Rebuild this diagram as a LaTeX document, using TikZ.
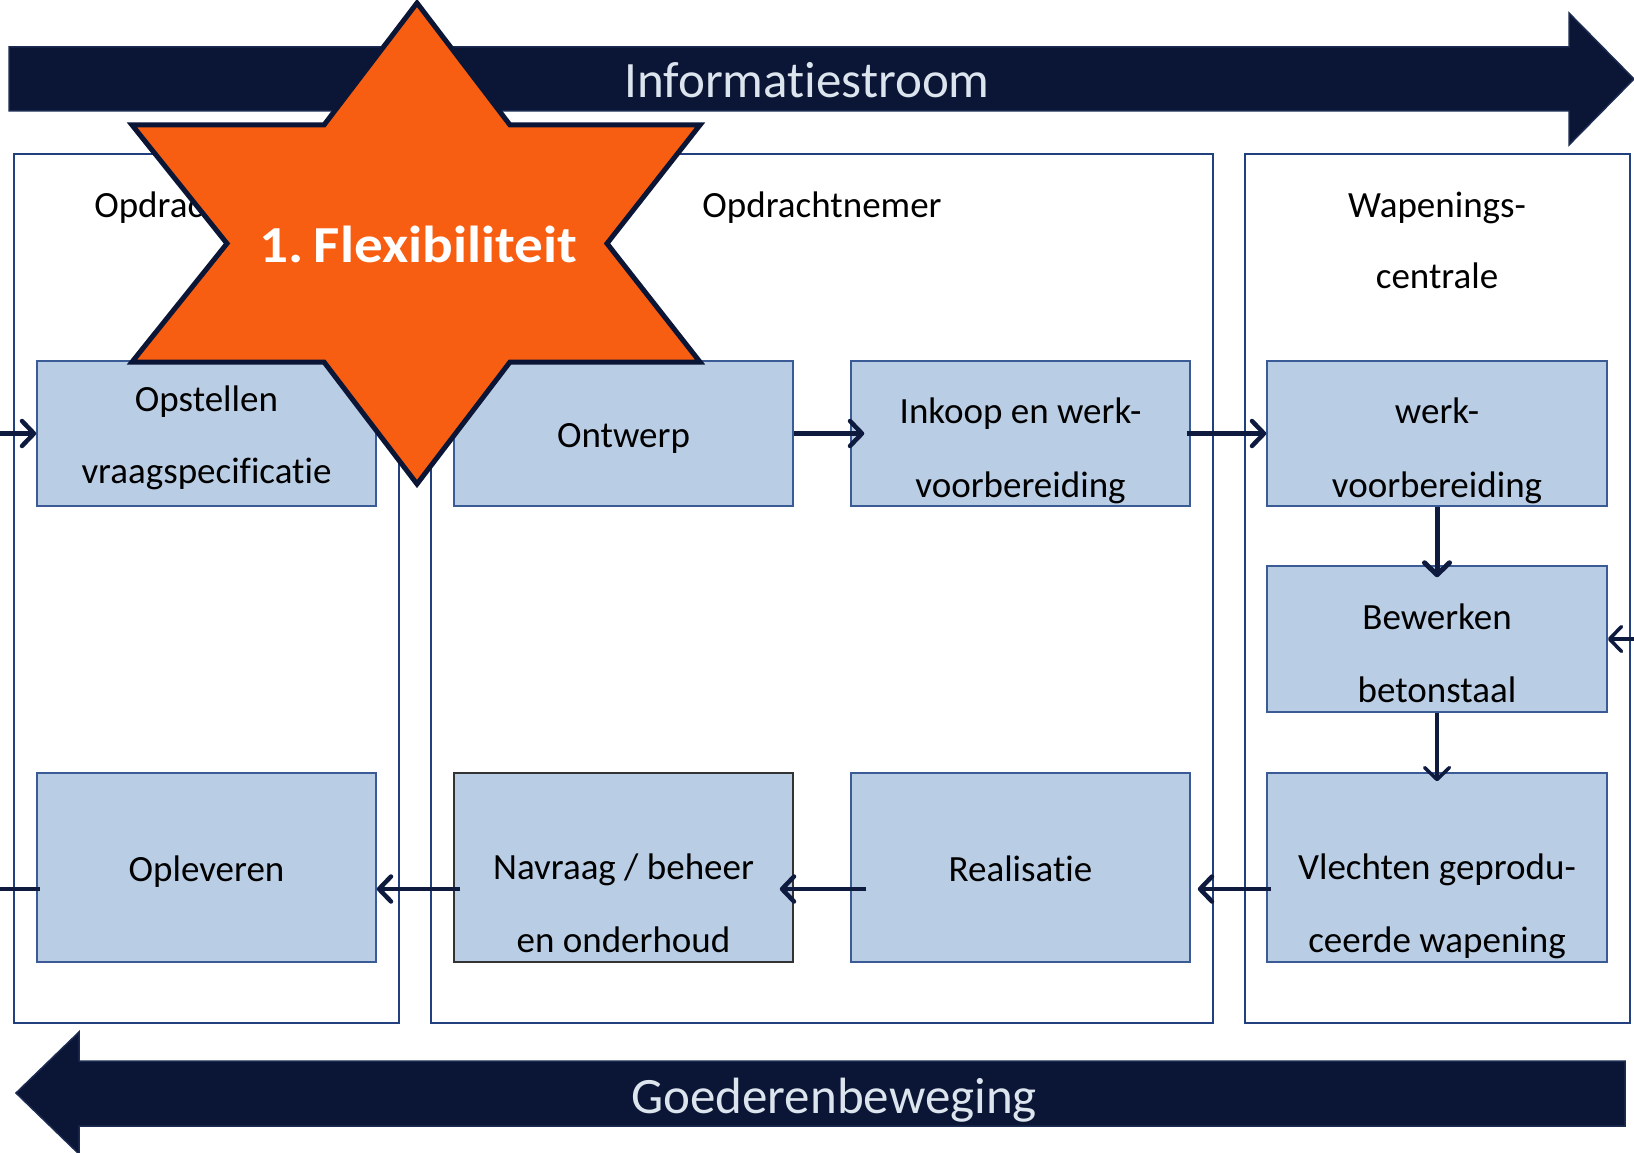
\documentclass[tikz,border=0pt]{standalone}
\usepackage{fontspec}
\setmainfont{Carlito}[Ligatures={NoCommon,NoContextual,NoRare}]
\usetikzlibrary{arrows.meta}
\newcommand\nolg{\kern0pt\relax}
\definecolor{navy}{HTML}{0B1535}
\definecolor{navyedge}{HTML}{1C2B52}
\definecolor{arrowtext}{HTML}{DCE5EE}
\definecolor{boxfill}{HTML}{B9CDE5}
\definecolor{boxedge}{HTML}{3A5B96}
\definecolor{laneedge}{HTML}{23407E}
\definecolor{connc}{HTML}{0E1A3E}
\definecolor{starfill}{HTML}{F85E12}
\tikzset{
  lane/.style={draw=laneedge, line width=2pt},
  procbox/.style={draw=boxedge, fill=boxfill, line width=1.5pt, minimum width=339pt, inner sep=0pt},
  boxtxt/.style={anchor=base, inner sep=0pt, font=\fontsize{37}{44}\selectfont, text=black},
  conn/.style={draw=connc, line width=4.5pt, -{Straight Barb[length=12pt,width=25pt,line cap=round,line join=round]}},
  connthin/.style={conn, line width=3.5pt},
  bigarrow/.style={fill=navy, draw=navyedge, line width=1.5pt},
  bigtxt/.style={anchor=base, inner sep=0pt, font=\fontsize{51}{60}\selectfont, text=arrowtext},
  starshape/.style={fill=starfill, draw=navy, line width=5pt, line join=miter},
}
\begin{document}
\begin{tikzpicture}[x=1pt,y=-1pt]
\useasboundingbox (0,0) rectangle (1634,1153);

% swimlanes
\draw[lane] (14,154) rectangle (398.5,1023);
\draw[lane] (430.5,154) rectangle (1213,1023);
\draw[lane] (1245,154) rectangle (1630,1023);

\node[boxtxt] (l1) at (206,217) {Opdrachtgever};
\node[boxtxt] (l2) at (822,217) {Opdrachtnemer};
\node[boxtxt] (l3a) at (1437,217) {Wapenings-};
\node[boxtxt] (l3b) at (1437,288) {centrale};

% process boxes
\node[procbox, minimum height=145pt] (b1) at (206.5,433.5) {};
\node[procbox, minimum height=145pt] (b2) at (623.5,433.5) {};
\node[procbox, minimum height=145pt] (b3) at (1020.5,433.5) {};
\node[procbox, minimum height=145pt, minimum width=340pt] (b4) at (1437,433.5) {};
\node[procbox, minimum height=146pt, minimum width=340pt] (b5) at (1437,639) {};
\node[procbox, minimum height=189pt, minimum width=340pt] (b6) at (1437,867.5) {};
\node[procbox, minimum height=189pt] (b7) at (1020.5,867.5) {};
\node[procbox, minimum height=189pt, draw=black!80] (b8) at (623.5,867.5) {};
\node[procbox, minimum height=189pt] (b9) at (206.5,867.5) {};

\node[boxtxt] (t1a) at (206.5,411) {Opstellen};
\node[boxtxt] (t1b) at (206.5,483) {vraagspecificat\nolg ie};
\node[boxtxt] (t2) at (623.5,447) {Ontwerp};
\node[boxtxt] (t3a) at (1020.5,423) {Inkoop en werk-};
\node[boxtxt] (t3b) at (1020.5,497) {voorbereiding};
\node[boxtxt] (t4a) at (1437,423) {werk-};
\node[boxtxt] (t4b) at (1437,497) {voorbereiding};
\node[boxtxt] (t5a) at (1437,629) {Bewerken};
\node[boxtxt] (t5b) at (1437,702) {betonstaal};
\node[boxtxt] (t6a) at (1437,879) {Vlechten geprodu-};
\node[boxtxt] (t6b) at (1437,952) {ceerde wapening};
\node[boxtxt] (t7) at (1020.5,881) {Realisat\nolg ie};
\node[boxtxt] (t8a) at (623.5,879) {Navraag / beheer};
\node[boxtxt] (t8b) at (623.5,952) {en onderhoud};
\node[boxtxt] (t9) at (206.5,881) {Opleveren};

% connectors
\coordinate (inL) at (0,433.5);
\coordinate (inR) at (1634,639);
\coordinate (outL) at (0,889);
\coordinate (r3) at (0,889);
\draw[conn] (inL) -- (b1.west);
\draw[conn, shorten >=-14pt] (b2.east) -- (b3.west);
\draw[conn, shorten <=-4pt] (b3.east) -- (b4.west);
\draw[conn, line width=5pt, shorten >=-12pt] (b4.south) -- (b5.north);
\draw[connthin, shorten >=-9pt] (b5.south) -- (b6.north);
\draw[connthin] (inR) -- (b5.east);
\draw[conn, shorten <=-5pt, shorten >=7pt] (b6.west |- r3) -- (b7.east |- r3);
\draw[conn, shorten <=-16pt, shorten >=-14pt] (b7.west |- r3) -- (b8.east |- r3);
\draw[conn, shorten <=-7pt] (b8.west |- r3) -- (b9.east |- r3);
\draw[draw=connc, line width=4.5pt, shorten <=-4pt] (b9.west |- r3) -- (outL);

% big flow arrows
\draw[bigarrow] (9,47) -- (1569,47) -- (1569,13) -- (1634,79) -- (1569,145) -- (1569,111) -- (9,111) -- cycle;
\node[bigtxt] (info) at (807,98) {Informat\nolg iestroom};
\draw[bigarrow] (1625,1061) -- (79,1061) -- (79,1032) -- (16,1093) -- (79,1154) -- (79,1126) -- (1625,1126) -- cycle;
\node[bigtxt] (goed) at (834,1113) {Goederenbeweging};

% star
\draw[starshape] (417,3) -- (510,125) -- (700,125) -- (607,243.5) -- (700,362) -- (510,362) -- (417,484) -- (324,362) -- (132,362) -- (227,243.5) -- (132,125) -- (324,125) -- cycle;
\node[anchor=base, inner sep=0pt, text=white, font=\bfseries\fontsize{52}{60}\selectfont] (flex) at (418.5,262) {\scalebox{1.1}[1]{1.\kern-3pt\ Flexibiliteit}};
\end{tikzpicture}
\end{document}
